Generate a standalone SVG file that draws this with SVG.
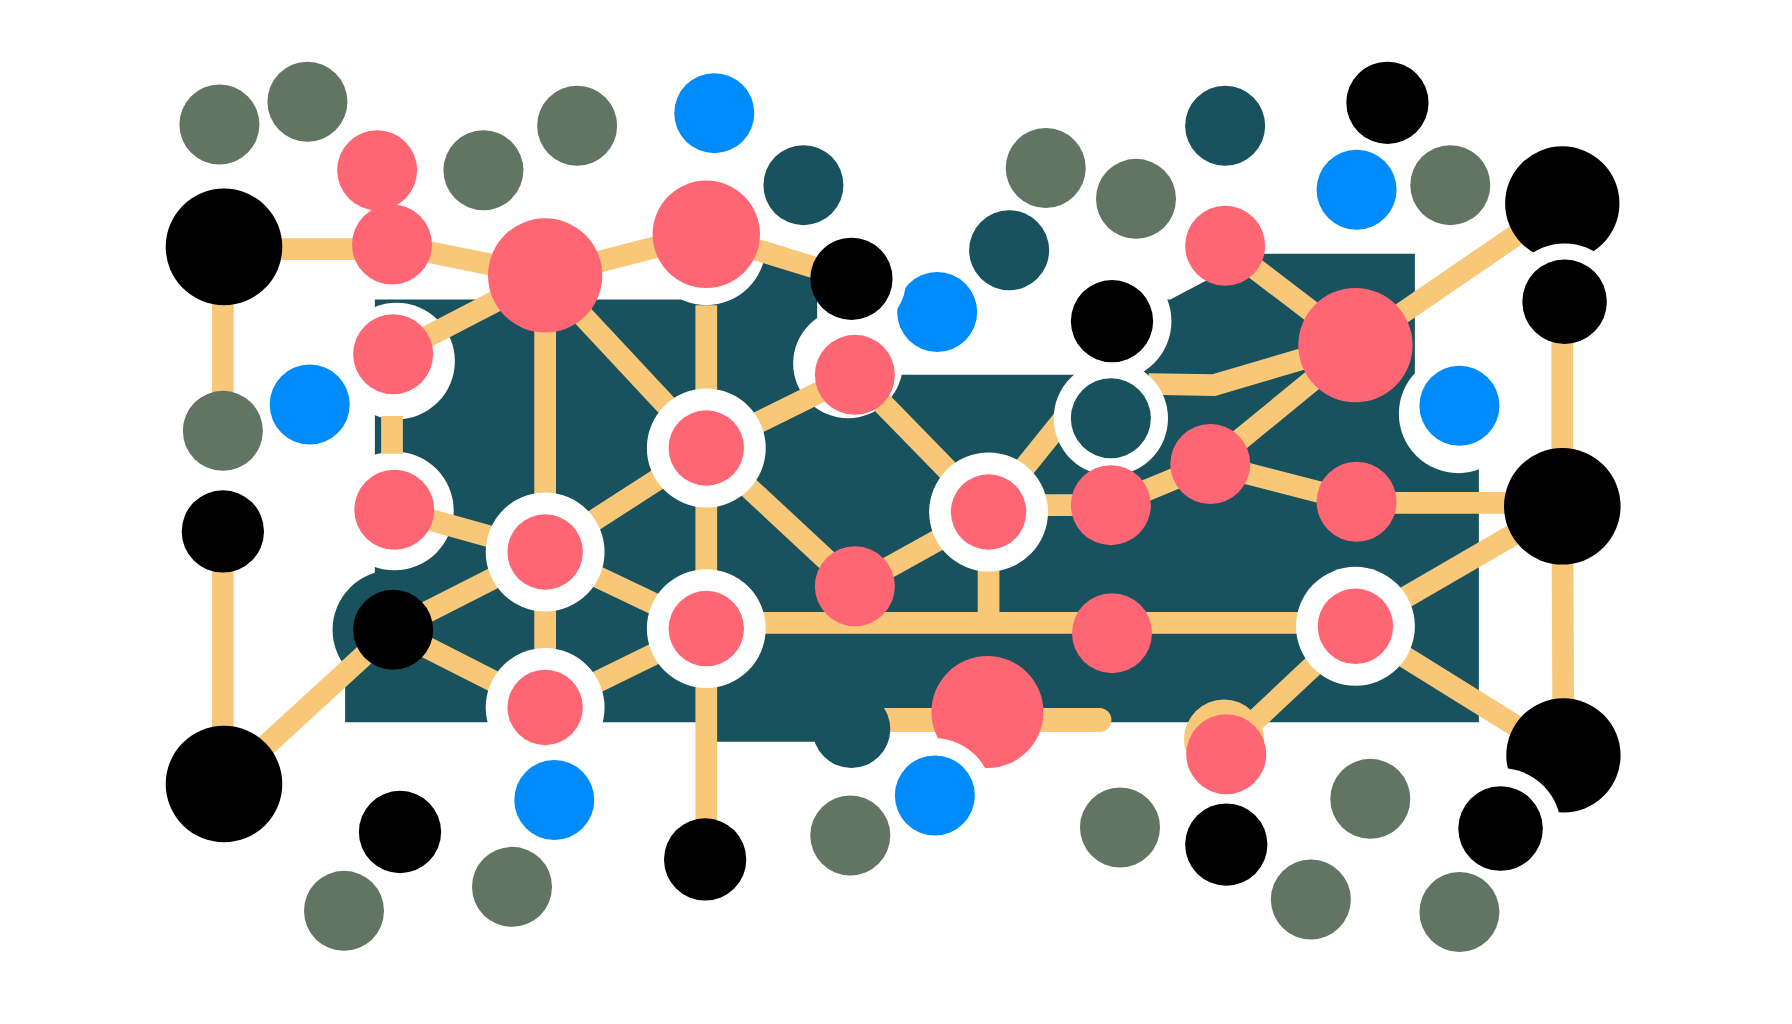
<svg xmlns="http://www.w3.org/2000/svg" width="1792" height="1024" viewBox="0 0 1792 1024">
<style>
.r{fill:#FF6673}.k{fill:#000}.g{fill:#627562}.b{fill:#008BFA}.t{fill:#17525E}.w{fill:#FFFFFF}
.ln{stroke:#F8C878;stroke-width:19;fill:none}
</style>
<defs>
<mask id="m1" maskUnits="userSpaceOnUse" x="0" y="0" width="1568" height="896"><rect width="1568" height="896" fill="#fff"/><circle cx="745" cy="244" r="48" fill="#000"/></mask>
<mask id="m2" maskUnits="userSpaceOnUse" x="0" y="0" width="1568" height="896"><rect width="1568" height="896" fill="#fff"/><circle cx="1369" cy="264" r="51" fill="#000"/></mask>
<mask id="m3" maskUnits="userSpaceOnUse" x="0" y="0" width="1568" height="896"><rect width="1568" height="896" fill="#fff"/><circle cx="818" cy="696" r="50" fill="#000"/></mask>
<mask id="m4" maskUnits="userSpaceOnUse" x="0" y="0" width="1568" height="896"><rect width="1568" height="896" fill="#fff"/><circle cx="1313" cy="725" r="53" fill="#000"/></mask>
</defs>
<rect width="1792" height="1024" fill="#FFFFFF"/>
<g transform="scale(1.142857)">
<g id="panel">
<polygon class="t" points="328,262 640,262 640,230 715,230 715,328 960,328 960,262 1024,262 1100,222 1238,222 1238,380 1294,380 1294,632 750,632 750,649 617,649 617,632 302,632 302,557 328,557"/>
<circle class="t" cx="343" cy="551" r="52"/>
</g>
<g id="halos">
<circle class="w" cx="618" cy="215" r="52"/>
<circle class="w" cx="347" cy="316" r="51"/>
<circle class="w" cx="345" cy="447" r="52"/>
<circle class="w" cx="742" cy="318" r="48"/>
<circle class="w" cx="973" cy="281" r="52"/>
<circle class="w" cx="1276" cy="362" r="52"/>
</g>
<g id="connectors">
<line class="ln" x1="195" y1="218" x2="343" y2="218"/>
<line class="ln" x1="195" y1="216" x2="195" y2="377"/>
<line class="ln" x1="195" y1="465" x2="195" y2="686"/>
<line class="ln" x1="196" y1="686" x2="343" y2="551"/>
<line class="ln" x1="343" y1="214" x2="477" y2="241"/>
<line class="ln" x1="344" y1="310" x2="477" y2="241"/>
<line class="ln" x1="477" y1="241" x2="618" y2="205"/>
<line class="ln" x1="618" y1="205" x2="745" y2="244"/>
<line class="ln" x1="477" y1="241" x2="477" y2="483"/>
<line class="ln" x1="477" y1="241" x2="618" y2="392"/>
<line class="ln" x1="618" y1="267" x2="618" y2="392"/>
<line class="ln" x1="343" y1="364" x2="343" y2="397"/>
<line class="ln" x1="345" y1="446" x2="477" y2="483"/>
<line class="ln" x1="618" y1="392" x2="477" y2="483"/>
<line class="ln" x1="618" y1="392" x2="748" y2="328"/>
<line class="ln" x1="618" y1="392" x2="748" y2="513"/>
<line class="ln" x1="477" y1="483" x2="343" y2="551"/>
<line class="ln" x1="477" y1="483" x2="477" y2="619"/>
<line class="ln" x1="477" y1="483" x2="618" y2="550"/>
<line class="ln" x1="343" y1="551" x2="477" y2="619"/>
<line class="ln" x1="618" y1="550" x2="477" y2="619"/>
<line class="ln" x1="618" y1="392" x2="618" y2="550"/>
<line class="ln" x1="618" y1="550" x2="618" y2="752"/>
<line class="ln" x1="748" y1="328" x2="865" y2="448"/>
<line class="ln" x1="748" y1="513" x2="865" y2="448"/>
<line class="ln" x1="865" y1="448" x2="948" y2="345"/>
<line class="ln" x1="865" y1="442" x2="972" y2="442"/>
<line class="ln" x1="972" y1="442" x2="1059" y2="406"/>
<line class="ln" x1="865" y1="448" x2="865" y2="545"/>
<line class="ln" x1="618" y1="545" x2="1186" y2="545"/>
<line class="ln" x1="1059" y1="406" x2="1186" y2="302"/>
<line class="ln" x1="1059" y1="406" x2="1187" y2="439"/>
<line class="ln" x1="1187" y1="440" x2="1367" y2="440"/>
<line class="ln" x1="1186" y1="302" x2="1367" y2="178"/>
<line class="ln" x1="1186" y1="302" x2="1072" y2="215"/>
<polyline class="ln" points="1140,314 1062,337 1005,336"/>
<line class="ln" x1="1186" y1="548" x2="1367" y2="443"/>
<line class="ln" x1="1186" y1="548" x2="1368" y2="661"/>
<line class="ln" x1="1186" y1="548" x2="1072" y2="655"/>
<circle cx="1071" cy="647" r="35" fill="#F8C878"/>
<line class="ln" x1="1367" y1="264" x2="1367" y2="443"/>
<line class="ln" x1="1367" y1="443" x2="1368" y2="661"/>
<path d="M760,619.5 H962 A10.5,10.5 0 0 1 962,640.5 H760 Z" fill="#F8C878"/>
</g>
<g id="bump"><circle class="t" cx="745" cy="638" r="34"/></g>
<g id="rings">
<circle class="w" cx="618" cy="392" r="52"/>
<circle class="w" cx="477" cy="483" r="52"/>
<circle class="w" cx="618" cy="550" r="52"/>
<circle class="w" cx="477" cy="619" r="52"/>
<circle class="w" cx="865" cy="448" r="52"/>
<circle class="w" cx="1186" cy="548" r="52"/>
<circle class="w" cx="972" cy="366" r="50"/>
</g>
<g id="nodes">
<g id="n1"><circle class="g" cx="192" cy="109" r="35"/></g>
<g id="n2"><circle class="g" cx="269" cy="89" r="35"/></g>
<g id="n3"><circle class="r" cx="330" cy="149" r="35"/></g>
<g id="n4"><circle class="g" cx="423" cy="149" r="35"/></g>
<g id="n5"><circle class="g" cx="505" cy="110" r="35"/></g>
<g id="n6"><circle class="b" cx="625" cy="99" r="35"/></g>
<g id="n7"><circle class="t" cx="703" cy="162" r="35"/></g>
<g id="n8"><circle class="k" cx="196" cy="216" r="51"/></g>
<g id="n9"><circle class="r" cx="343" cy="214" r="35"/></g>
<g id="n10"><circle class="r" cx="477" cy="241" r="50"/></g>
<g id="n11"><circle class="r" cx="618" cy="205" r="47"/></g>
<g id="n12"><circle class="k" cx="745" cy="244" r="36"/></g>
<g id="n13"><circle class="b" cx="820" cy="273" r="35" mask="url(#m1)"/></g>
<g id="n14"><circle class="t" cx="883" cy="219" r="35"/></g>
<g id="n15"><circle class="g" cx="915" cy="147" r="35"/></g>
<g id="n16"><circle class="g" cx="994" cy="174" r="35"/></g>
<g id="n17"><circle class="t" cx="1072" cy="110" r="35"/></g>
<g id="n18"><circle class="k" cx="1214" cy="90" r="36"/></g>
<g id="n19"><circle class="b" cx="1187" cy="166" r="35"/></g>
<g id="n20"><circle class="g" cx="1269" cy="162" r="35"/></g>
<g id="n21"><circle class="k" cx="1367" cy="178" r="50" mask="url(#m2)"/></g>
<g id="n22"><circle class="r" cx="1072" cy="215" r="35"/></g>
<g id="n23"><circle class="k" cx="973" cy="281" r="36"/></g>
<g id="n24"><circle class="k" cx="1369" cy="264" r="37"/></g>
<g id="n25"><circle class="r" cx="1186" cy="302" r="50"/></g>
<g id="n26"><circle class="b" cx="1277" cy="355" r="35"/></g>
<g id="n27"><circle class="r" cx="344" cy="310" r="35"/></g>
<g id="n28"><circle class="b" cx="271" cy="354" r="35"/></g>
<g id="n29"><circle class="g" cx="195" cy="377" r="35"/></g>
<g id="n30"><circle class="r" cx="748" cy="328" r="35"/></g>
<g id="n31"><circle class="t" cx="972" cy="366" r="35"/></g>
<g id="n32"><circle class="r" cx="618" cy="392" r="33"/></g>
<g id="n33"><circle class="r" cx="345" cy="446" r="35"/></g>
<g id="n34"><circle class="k" cx="195" cy="465" r="36"/></g>
<g id="n35"><circle class="r" cx="477" cy="483" r="33"/></g>
<g id="n36"><circle class="r" cx="865" cy="448" r="33"/></g>
<g id="n37"><circle class="r" cx="972" cy="442" r="35"/></g>
<g id="n38"><circle class="r" cx="1059" cy="406" r="35"/></g>
<g id="n39"><circle class="r" cx="1187" cy="439" r="35"/></g>
<g id="n40"><circle class="k" cx="1367" cy="443" r="51"/></g>
<g id="n41"><circle class="r" cx="748" cy="513" r="35"/></g>
<g id="n42"><circle class="r" cx="618" cy="550" r="33"/></g>
<g id="n43"><circle class="k" cx="344" cy="551" r="35"/></g>
<g id="n44"><circle class="r" cx="973" cy="554" r="35"/></g>
<g id="n45"><circle class="r" cx="1186" cy="548" r="33"/></g>
<g id="n46"><circle class="r" cx="477" cy="619" r="33"/></g>
<g id="n47"><circle class="r" cx="864" cy="623" r="49" mask="url(#m3)"/></g>
<g id="n48"><circle class="r" cx="1073" cy="660" r="35"/></g>
<g id="n49"><circle class="k" cx="1368" cy="661" r="50" mask="url(#m4)"/></g>
<g id="n50"><circle class="k" cx="196" cy="686" r="51"/></g>
<g id="n51"><circle class="b" cx="485" cy="700" r="35"/></g>
<g id="n52"><circle class="b" cx="818" cy="696" r="35"/></g>
<g id="n53"><circle class="k" cx="350" cy="728" r="36"/></g>
<g id="n54"><circle class="g" cx="744" cy="731" r="35"/></g>
<g id="n55"><circle class="k" cx="617" cy="752" r="36"/></g>
<g id="n56"><circle class="g" cx="980" cy="724" r="35"/></g>
<g id="n57"><circle class="g" cx="1199" cy="699" r="35"/></g>
<g id="n58"><circle class="k" cx="1073" cy="739" r="36"/></g>
<g id="n59"><circle class="k" cx="1313" cy="725" r="37"/></g>
<g id="n60"><circle class="g" cx="301" cy="797" r="35"/></g>
<g id="n61"><circle class="g" cx="448" cy="776" r="35"/></g>
<g id="n62"><circle class="g" cx="1147" cy="787" r="35"/></g>
<g id="n63"><circle class="g" cx="1277" cy="798" r="35"/></g>
</g>
</g>
</svg>
